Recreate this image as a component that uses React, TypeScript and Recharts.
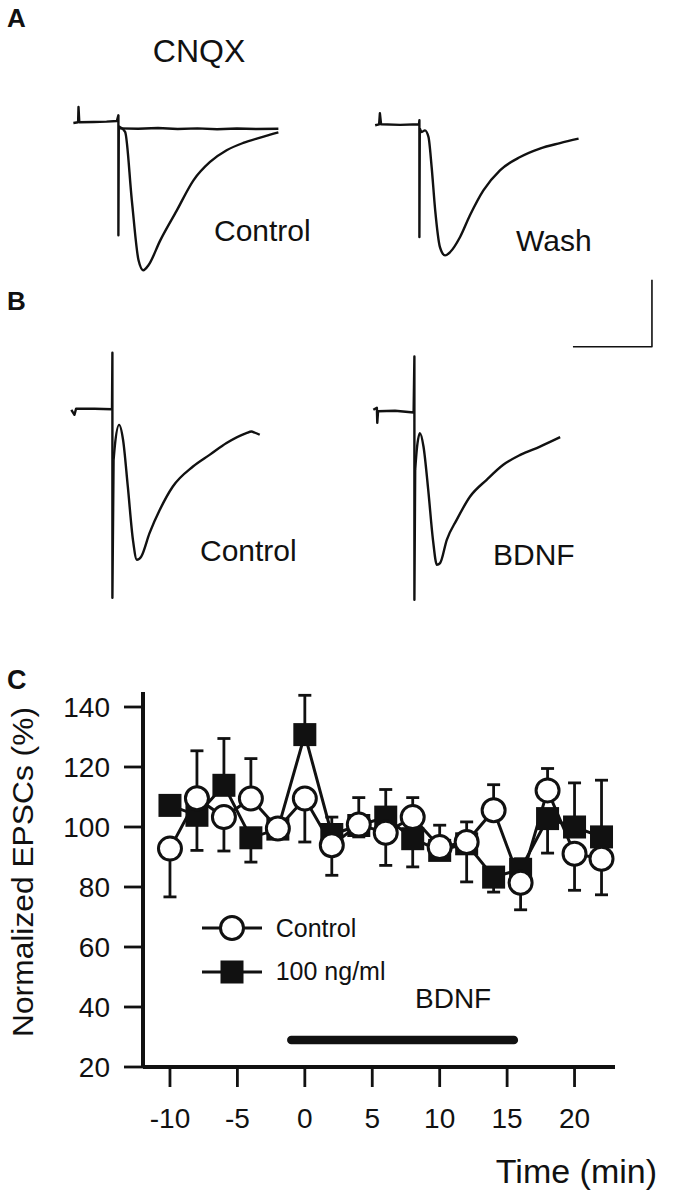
import { ErrorBar, Legend, Line, LineChart, ReferenceLine, XAxis, YAxis } from 'recharts';

const FONT = '"Liberation Sans", Arial, Helvetica, sans-serif';
const INK = '#111';

// ---- panel C: normalized EPSC amplitude (%), one point every 2 min ----
const times = [-10, -8, -6, -4, -2, 0, 2, 4, 6, 8, 10, 12, 14, 16, 18, 20, 22];
const control = [92.8, 109.6, 103.3, 109.5, 99.5, 109.5, 93.9, 100.8, 98.1, 103.3, 93.3, 95, 105.6, 81.4, 112.2, 91.1, 89.4];
const controlErrLow = [16.1, 0, 11.3, 0, 0, 14.5, 10, 0, 10.9, 0, 0, 0, 0, 9, 0, 12.2, 12];
const controlErrHigh = [0, 15.8, 0, 13.3, 0, 0, 0, 9, 0, 6.5, 7.3, 6.7, 8.5, 0, 7.3, 0, 0];
const bdnf = [107.2, 103.9, 113.9, 96.4, 99.3, 130.8, 97.5, 100.5, 103.3, 96.1, 92.2, 94.4, 83.3, 85.9, 102.8, 100, 96.7];
const bdnfErrLow = [0, 11.7, 0, 8.1, 0, 0, 0, 3.8, 0, 9.4, 0, 12.7, 5, 0, 11.5, 0, 0];
const bdnfErrHigh = [0, 0, 15.6, 0, 0, 13.1, 5.8, 0, 9.2, 0, 0, 0, 0, 3.5, 0, 14.7, 18.9];
const xTicks = [-10, -5, 0, 5, 10, 15, 20];
const yTicks = [20, 40, 60, 80, 100, 120, 140];
const bdnfWindow = [-1, 15.5]; // min
const bdnfBarLevel = 29;

// ---- panels A/B: example traces, t in ms after stimulus, i in pA from baseline ----
// "pre" = baseline + stimulus artifact (straight segments), "post" = the EPSC itself
const aControlPre = [
  [-11.4, -0.5], [-10.2, 0], [-10.1, 11.4], [-9.9, 0], [-6.3, 0.2], [-3, 0.5], [-0.4, 1], [0, 5.2], [0, -84.3], [0.1, -3],
];
const aControlPost = [
  [0.1, -3], [1.7, -7.2], [3.4, -58.2], [5.1, -103], [6.3, -110.4], [7.6, -106.7], [10.6, -88.1], [14.8, -65.7],
  [19, -43.3], [23.2, -29.6], [27.4, -20.9], [31.6, -15.4], [35.9, -11.4], [40.5, -7.5],
];
const aCnqx = [
  [0.2, -4.5], [5, -4.8], [10, -4.2], [15, -5], [20, -4.5], [25, -5.2], [30, -4.6], [35, -5], [40.5, -4.8],
];
const aWashPre = [
  [-11.2, -0.7], [-10.2, 0], [-10, 8.2], [-9.7, 0], [-4.9, -0.4], [-0.1, 0], [0, 3], [0, -84.1], [0.1, -3],
];
const aWashPost = [
  [0.1, -3], [0.6, -5.7], [1.4, -4.5], [2.3, -9.5], [3.1, -31.9], [4, -64.2], [5.2, -91.6], [6.5, -97.8], [7.8, -95.3],
  [10.3, -84.1], [12.8, -67.9], [16.2, -49.3], [20.4, -34.3], [25.5, -24.4], [30.5, -18.1], [35.6, -14], [40.3, -10.7],
];
const bControlPre = [
  [-10.4, -0.4], [-9.6, -4.1], [-9.2, 0.4], [-4.5, 0.4], [-0.1, 0], [0, 42.2], [0, -140.7], [0.3, -37.7],
];
const bControlPost = [
  [0.3, -37.7], [0.6, -27.8], [1.7, -11.6], [2.7, -22.8], [3.9, -57.6], [5.2, -97.4], [6.2, -112.3], [7.3, -109.9],
  [9.4, -92.4], [12, -75], [15.3, -57.6], [20.4, -42.7], [24.6, -34], [28.9, -25.2], [33.9, -17.8], [35.2, -16.6],
  [36.1, -17.5], [37.3, -19],
];
const bBdnfPre = [
  [-10.4, 1.1], [-9.5, 2.6], [-9.4, -8.6], [-9.2, 0], [-4.9, 0.4], [-0.2, -0.9], [0, 40.9], [0, -140.7], [0.2, -43.7],
];
const bBdnfPost = [
  [0.2, -43.7], [0.6, -28.7], [1.4, -16.3], [2.3, -26.3], [3.5, -58.6], [4.7, -95.9], [5.7, -114.6], [6.5, -113.3],
  [8.2, -95.9], [10.7, -81], [14.1, -63.6], [18.3, -51.1], [22.5, -39.9], [26.8, -32.5], [31.8, -26.3], [36.9, -19.3],
];
const scaleBar = [[0, 0], [20, 0], [20, 50]]; // 20 ms, 50 pA

const PX_PER_MS = 3.95;
const PX_PER_PA = 1.34;

const toPts = (arr: number[][]) => arr.map(([t, i]) => ({ t, i }));

type Trace = { pts: number[][]; smooth?: boolean };

type TraceProps = {
  stimX: number; // page x of t = 0
  baseY: number; // page y of i = 0
  t0: number;
  i1: number;
  width: number;
  height: number;
  traces: Trace[];
  strokeWidth?: number;
};

function TraceBox({ stimX, baseY, t0, i1, width, height, traces, strokeWidth = 2.4 }: TraceProps) {
  const left = stimX + t0 * PX_PER_MS;
  const top = baseY - i1 * PX_PER_PA;
  return (
    <div style={{ position: 'absolute', left, top }}>
      <LineChart width={width} height={height} margin={{ top: 0, right: 0, bottom: 0, left: 0 }}>
        <XAxis type="number" dataKey="t" domain={[t0, t0 + width / PX_PER_MS]} allowDataOverflow hide />
        <YAxis type="number" domain={[i1 - height / PX_PER_PA, i1]} allowDataOverflow hide />
        {traces.map((tr, k) => (
          <Line
            key={k}
            data={toPts(tr.pts)}
            dataKey="i"
            type={tr.smooth ? 'monotoneX' : 'linear'}
            stroke={INK}
            strokeWidth={strokeWidth}
            strokeLinejoin="round"
            dot={false}
            activeDot={false}
            isAnimationActive={false}
          />
        ))}
      </LineChart>
    </div>
  );
}

const panelCData = times.map((t, k) => ({
  t,
  control: control[k],
  controlErr: [controlErrLow[k], controlErrHigh[k]],
  bdnf: bdnf[k],
  bdnfErr: [bdnfErrLow[k], bdnfErrHigh[k]],
}));

const renderSquare = (p: any) => (
  <rect key={`sq-${p.index}`} x={p.cx - 11.5} y={p.cy - 11.5} width={23} height={23} fill={INK} />
);

function LegendBox() {
  const rows = [
    { label: 'Control', marker: <circle cx={30} cy={13} r={11.5} fill="#fff" stroke={INK} strokeWidth={3} /> },
    { label: '100 ng/ml', marker: <rect x={18.5} y={1.5} width={23} height={23} fill={INK} /> },
  ];
  return (
    <div style={{ fontFamily: FONT, fontSize: 25, color: INK }}>
      {rows.map((r) => (
        <div key={r.label} style={{ display: 'flex', alignItems: 'center', height: 43.4 }}>
          <svg width={60} height={26} style={{ overflow: 'visible' }}>
            <line x1={0} x2={60} y1={13} y2={13} stroke={INK} strokeWidth={3} />
            {r.marker}
          </svg>
          <span style={{ marginLeft: 14 }}>{r.label}</span>
        </div>
      ))}
    </div>
  );
}

const tickStyle = { fill: INK, fontSize: 28, fontFamily: FONT };

export default function App() {
  return (
    <div style={{ position: 'absolute', left: 0, top: 0, width: 680, height: 1199, background: '#fff', overflow: 'hidden' }}>
      <TraceBox
        stimX={118.3}
        baseY={122}
        t0={-12}
        i1={45}
        width={213}
        height={255}
        traces={[{ pts: aCnqx }, { pts: aControlPre }, { pts: aControlPost, smooth: true }]}
      />
      <TraceBox
        stimX={419.3}
        baseY={124}
        t0={-12}
        i1={45}
        width={213}
        height={255}
        traces={[{ pts: aWashPre }, { pts: aWashPost, smooth: true }]}
      />
      <TraceBox
        stimX={112.7}
        baseY={409.5}
        t0={-12}
        i1={45}
        width={213}
        height={255}
        traces={[{ pts: bControlPre }, { pts: bControlPost, smooth: true }]}
      />
      <TraceBox
        stimX={414.3}
        baseY={411.5}
        t0={-12}
        i1={45}
        width={213}
        height={255}
        traces={[{ pts: bBdnfPre }, { pts: bBdnfPost, smooth: true }]}
      />
      <TraceBox stimX={572.7} baseY={346.7} t0={-1} i1={55} width={95} height={80} traces={[{ pts: scaleBar }]} strokeWidth={1.6} />

      <div style={{ position: 'absolute', left: 0, top: 640 }}>
        <LineChart width={680} height={559} data={panelCData} margin={{ top: 52, right: 65, bottom: 72, left: 73 }}>
          <XAxis
            type="number"
            dataKey="t"
            domain={[-12, 23]}
            ticks={xTicks}
            allowDataOverflow
            height={60}
            axisLine={{ stroke: INK, strokeWidth: 4 }}
            tickLine={{ stroke: INK, strokeWidth: 2.8 }}
            tickSize={20}
            tickMargin={21}
            tick={tickStyle}
          />
          <YAxis
            type="number"
            domain={[20, 145]}
            ticks={yTicks}
            allowDataOverflow
            width={70}
            axisLine={{ stroke: INK, strokeWidth: 4 }}
            tickLine={{ stroke: INK, strokeWidth: 2.8 }}
            tickSize={19}
            tickMargin={14}
            tick={tickStyle}
          />
          <ReferenceLine
            segment={[{ x: bdnfWindow[0], y: bdnfBarLevel }, { x: bdnfWindow[1], y: bdnfBarLevel }]}
            stroke={INK}
            strokeWidth={8.5}
            strokeLinecap="round"
          />
          <Line dataKey="bdnf" type="linear" stroke={INK} strokeWidth={3} dot={false} activeDot={false} legendType="none" isAnimationActive={false}>
            <ErrorBar dataKey="bdnfErr" direction="y" width={6.5} stroke={INK} strokeWidth={2.8} />
          </Line>
          <Line dataKey="control" type="linear" stroke={INK} strokeWidth={3} dot={false} activeDot={false} legendType="none" isAnimationActive={false}>
            <ErrorBar dataKey="controlErr" direction="y" width={6.5} stroke={INK} strokeWidth={2.8} />
          </Line>
          <Line dataKey="bdnf" stroke="none" dot={renderSquare} activeDot={false} legendType="none" isAnimationActive={false} />
          <Line
            dataKey="control"
            stroke="none"
            dot={{ r: 11.5, fill: '#fff', stroke: INK, strokeWidth: 3 }}
            activeDot={false}
            legendType="none"
            isAnimationActive={false}
          />
          <Legend
            layout="vertical"
            align="center"
            verticalAlign="middle"
            content={() => <LegendBox />}
            wrapperStyle={{ left: 201.7, top: 266.6, width: 220 }}
          />
        </LineChart>
      </div>

      <svg width={680} height={1199} style={{ position: 'absolute', left: 0, top: 0, pointerEvents: 'none' }} fontFamily={FONT} fill={INK}>
        <text x={7} y={27} fontSize={26} fontWeight="bold">A</text>
        <text x={7} y={310} fontSize={26} fontWeight="bold">B</text>
        <text x={7} y={689} fontSize={27} fontWeight="bold">C</text>
        <text x={199} y={62} fontSize={32} textAnchor="middle">CNQX</text>
        <text x={214} y={241} fontSize={30}>Control</text>
        <text x={516} y={251} fontSize={30}>Wash</text>
        <text x={200} y={561} fontSize={30}>Control</text>
        <text x={493} y={565} fontSize={30}>BDNF</text>
        <text x={415} y={1008} fontSize={28}>BDNF</text>
        <text x={657} y={1183} fontSize={34} textAnchor="end">Time (min)</text>
        <text x={33} y={872} fontSize={29} textAnchor="middle" textLength={330} lengthAdjust="spacingAndGlyphs" transform="rotate(-90 33 872)">
          Normalized EPSCs (%)
        </text>
      </svg>
    </div>
  );
}
